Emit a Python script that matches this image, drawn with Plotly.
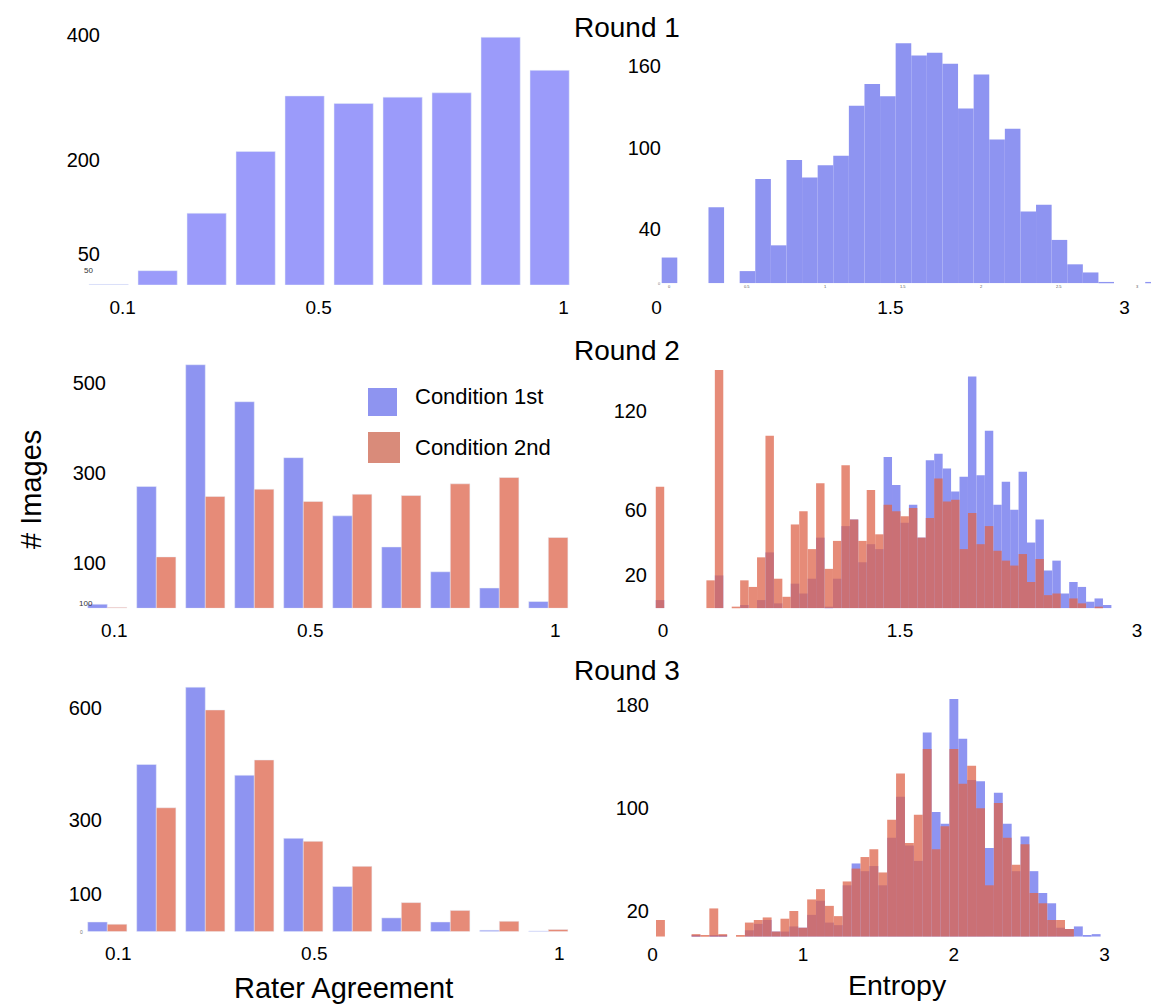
import plotly.graph_objects as go

W, H = 1151, 1004
FONT = "Liberation Sans, Arial, sans-serif"

# ---------------- data ----------------
# Rater agreement (left column), one bar per agreement level
agreement = [0.1, 0.2, 0.3, 0.4, 0.5, 0.6, 0.7, 0.8, 0.9, 1.0]
r1_agree = [1, 23, 115, 214, 303, 291, 301, 308, 397, 344]
r2_agree_1st = [9, 270, 540, 458, 334, 205, 136, 81, 45, 15]
r2_agree_2nd = [2, 114, 248, 264, 237, 253, 250, 276, 290, 157]
r3_agree_1st = [26, 448, 655, 419, 250, 121, 37, 26, 4, 2]
r3_agree_2nd = [20, 332, 594, 460, 242, 175, 78, 57, 28, 6]

# Entropy histograms (right column): bin counts, bins centred on k * width
r1_entropy_width = 0.1
r1_entropy = [19, 0, 0, 56, 0, 9, 77, 28, 91, 78,
              87, 94, 131, 147, 138, 177, 168, 170, 162, 129,
              154, 106, 114, 53, 58, 32, 14, 8, 1, 0,
              0, 1]

r2_entropy_width = 0.0534
r2_entropy_1st = [5, 0, 0, 0, 0, 0, 0, 20, 0, 0,
                  2, 0, 5, 34, 3, 0, 15, 9, 18, 43,
                  1, 18, 50, 54, 28, 39, 36, 92, 75, 52,
                  63, 43, 90, 94, 85, 71, 80, 141, 81, 108,
                  63, 77, 60, 83, 40, 54, 23, 29, 9, 16,
                  13, 4, 6, 2]
r2_entropy_2nd = [74, 0, 0, 0, 0, 0, 17, 145, 0, 1,
                  17, 13, 31, 105, 18, 7, 51, 59, 36, 76,
                  24, 41, 87, 54, 41, 72, 45, 63, 59, 56,
                  61, 43, 55, 79, 65, 66, 36, 58, 39, 50,
                  35, 29, 26, 33, 16, 30, 8, 9, 0, 6,
                  3, 0, 1, 0]

r3_entropy_width = 0.059
r3_entropy_1st = [0, 0, 0, 0, 1, 0, 1, 1, 0, 0,
                  5, 10, 13, 4, 4, 8, 7, 17, 28, 11,
                  9, 40, 57, 51, 55, 40, 77, 109, 71, 59,
                  159, 97, 88, 185, 154, 122, 121, 69, 112, 88,
                  51, 78, 51, 34, 26, 7, 6, 8, 1, 2]
r3_entropy_2nd = [13, 0, 0, 0, 2, 1, 22, 2, 0, 1,
                  11, 13, 15, 4, 14, 20, 7, 29, 37, 24,
                  16, 43, 53, 62, 68, 50, 91, 127, 73, 95,
                  146, 68, 86, 146, 119, 133, 100, 40, 104, 77,
                  56, 72, 34, 26, 13, 13, 6, 0, 0, 0]

series_names = ["Condition 1st", "Condition 2nd"]

# ---------------- styling ----------------
BLUE = "rgb(105,112,236)"
ORANGE = "rgb(222,100,75)"
LIGHT_BLUE = "rgb(155,155,250)"
OPACITY = 0.75


def px_x(x):
    return x / W


def px_y(y):
    return 1 - y / H


def bin_centres(counts, width):
    return [k * width for k in range(len(counts))]


fig = go.Figure()

# Round 1
fig.add_trace(go.Bar(x=agreement, y=r1_agree, width=0.08, marker_color=LIGHT_BLUE,
                     xaxis="x", yaxis="y", showlegend=False))
fig.add_trace(go.Bar(x=bin_centres(r1_entropy, r1_entropy_width), y=r1_entropy,
                     width=r1_entropy_width, marker_color=BLUE, opacity=OPACITY,
                     marker_line_width=0, xaxis="x2", yaxis="y2", showlegend=False))

# Round 2
fig.add_trace(go.Bar(x=agreement, y=r2_agree_1st, width=0.04, offset=-0.04,
                     marker_color=BLUE, opacity=OPACITY, name=series_names[0],
                     xaxis="x3", yaxis="y3", showlegend=False))
fig.add_trace(go.Bar(x=agreement, y=r2_agree_2nd, width=0.04, offset=0,
                     marker_color=ORANGE, opacity=OPACITY, name=series_names[1],
                     xaxis="x3", yaxis="y3", showlegend=False))
fig.add_trace(go.Bar(x=bin_centres(r2_entropy_1st, r2_entropy_width), y=r2_entropy_1st,
                     width=r2_entropy_width, marker_color=BLUE, opacity=OPACITY,
                     marker_line_width=0, xaxis="x4", yaxis="y4", showlegend=False))
fig.add_trace(go.Bar(x=bin_centres(r2_entropy_2nd, r2_entropy_width), y=r2_entropy_2nd,
                     width=r2_entropy_width, marker_color=ORANGE, opacity=OPACITY,
                     marker_line_width=0, xaxis="x4", yaxis="y4", showlegend=False))

# Round 3
fig.add_trace(go.Bar(x=agreement, y=r3_agree_1st, width=0.04, offset=-0.04,
                     marker_color=BLUE, opacity=OPACITY, xaxis="x5", yaxis="y5",
                     showlegend=False))
fig.add_trace(go.Bar(x=agreement, y=r3_agree_2nd, width=0.04, offset=0,
                     marker_color=ORANGE, opacity=OPACITY, xaxis="x5", yaxis="y5",
                     showlegend=False))
fig.add_trace(go.Bar(x=bin_centres(r3_entropy_1st, r3_entropy_width), y=r3_entropy_1st,
                     width=r3_entropy_width, marker_color=BLUE, opacity=OPACITY,
                     marker_line_width=0, xaxis="x6", yaxis="y6", showlegend=False))
fig.add_trace(go.Bar(x=bin_centres(r3_entropy_2nd, r3_entropy_width), y=r3_entropy_2nd,
                     width=r3_entropy_width, marker_color=ORANGE, opacity=OPACITY,
                     marker_line_width=0, xaxis="x6", yaxis="y6", showlegend=False))

base_axis = dict(showgrid=False, zeroline=False, showline=False, ticks="")


def xaxis(anchor, x0, x1, rng, tickvals, ticktext, shift=0, standoff=8):
    d = dict(base_axis)
    d.update(anchor=anchor, domain=[px_x(x0), px_x(x1)], range=rng,
             tickmode="array", tickvals=tickvals, ticktext=ticktext,
             ticklabelshift=shift, ticklabelstandoff=standoff,
             tickfont=dict(family=FONT, size=19, color="black"))
    return d


def yaxis(pos, y_top, y_base, rng, tickvals):
    d = dict(base_axis)
    d.update(anchor="free", position=px_x(pos), domain=[px_y(y_base), px_y(y_top)],
             range=rng, tickmode="array", tickvals=tickvals,
             ticktext=[str(v) for v in tickvals],
             tickfont=dict(family=FONT, size=20, color="black"))
    return d


fig.update_layout(
    width=W, height=H,
    margin=dict(l=0, r=0, t=0, b=0),
    paper_bgcolor="white", plot_bgcolor="white",
    barmode="overlay",
    font=dict(family=FONT, color="black"),
    xaxis=xaxis("y", 85, 575, [0.0518, 1.0518], [0.1, 0.5, 1.0], ["0.1", "0.5", "1"],
                shift=14, standoff=9),
    yaxis=yaxis(100, 25, 285, [0, 416.7], [50, 200, 400]),
    xaxis2=xaxis("y2", 645, 1151, [-0.157, 3.087], [0, 1.5, 3], ["0", "1.5", "3"],
                 shift=-13, standoff=11),
    yaxis2=yaxis(661, 25, 283.3, [0, 190.5], [40, 100, 160]),
    xaxis3=xaxis("y3", 85, 575, [0.0545, 1.0545], [0.1, 0.5, 1.0], ["0.1", "0.5", "1"],
                 shift=7, standoff=9),
    yaxis3=yaxis(106, 355, 608.3, [0, 561.6], [100, 300, 500]),
    xaxis4=xaxis("y4", 640, 1151, [-0.1266, 3.1076], [0, 1.5, 3], ["0", "1.5", "3"],
                 shift=3, standoff=9),
    yaxis4=yaxis(647, 365, 608.3, [0, 148], [20, 60, 120]),
    xaxis5=xaxis("y5", 85, 575, [0.0545, 1.0545], [0.1, 0.5, 1.0], ["0.1", "0.5", "1"],
                 shift=11, standoff=8),
    yaxis5=yaxis(102, 675, 931.7, [0, 687.6], [100, 300, 600]),
    xaxis6=xaxis("y6", 640, 1151, [-0.1357, 3.2551], [0, 1, 2, 3], ["0", "1", "2", "3"],
                 shift=-8, standoff=4),
    yaxis6=yaxis(649, 690, 936.7, [0, 192], [20, 100, 180]),
)

annotations = []


def text(x, y, s, size, **kw):
    a = dict(x=px_x(x), y=px_y(y), xref="paper", yref="paper", text=s,
             showarrow=False, font=dict(family=FONT, size=size, color="black"),
             xanchor="center", yanchor="middle")
    a.update(kw)
    annotations.append(a)


# Round titles
text(627, 28, "Round 1", 28)
text(627, 350, "Round 2", 28)
text(627, 670, "Round 3", 28)

# Axis titles
text(31, 490, "# Images", 29, textangle=-90)
text(343, 988, "Rater Agreement", 29)
text(897, 985, "Entropy", 28.5)

# Legend
text(413, 396, series_names[0], 22, xanchor="left")
text(413, 447, series_names[1], 22, xanchor="left")

# Small secondary tick labels near the baselines
text(88, 270.5, "50", 8, font=dict(family=FONT, size=8, color="#333"))
text(86, 603, "100", 8, font=dict(family=FONT, size=8, color="#333"))
text(81, 932, "0", 5, font=dict(family=FONT, size=5, color="#777"))
text(660, 283, "0", 4, font=dict(family=FONT, size=4, color="#777"))
for v in [0, 0.5, 1, 1.5, 2, 2.5, 3]:
    annotations.append(dict(x=v, y=px_y(286.5), xref="x2", yref="paper",
                            text=f"{v:g}", showarrow=False,
                            font=dict(family=FONT, size=4, color="#555"),
                            xanchor="center", yanchor="middle"))

fig.update_layout(annotations=annotations)

# Legend swatches
fig.add_shape(type="rect", xref="paper", yref="paper",
              x0=px_x(368), x1=px_x(397), y0=px_y(416), y1=px_y(388),
              fillcolor="rgb(142,148,240)", line_width=0)
fig.add_shape(type="rect", xref="paper", yref="paper",
              x0=px_x(368), x1=px_x(400), y0=px_y(463), y1=px_y(432),
              fillcolor="rgb(217,139,122)", line_width=0)

fig.write_html("out.html")
